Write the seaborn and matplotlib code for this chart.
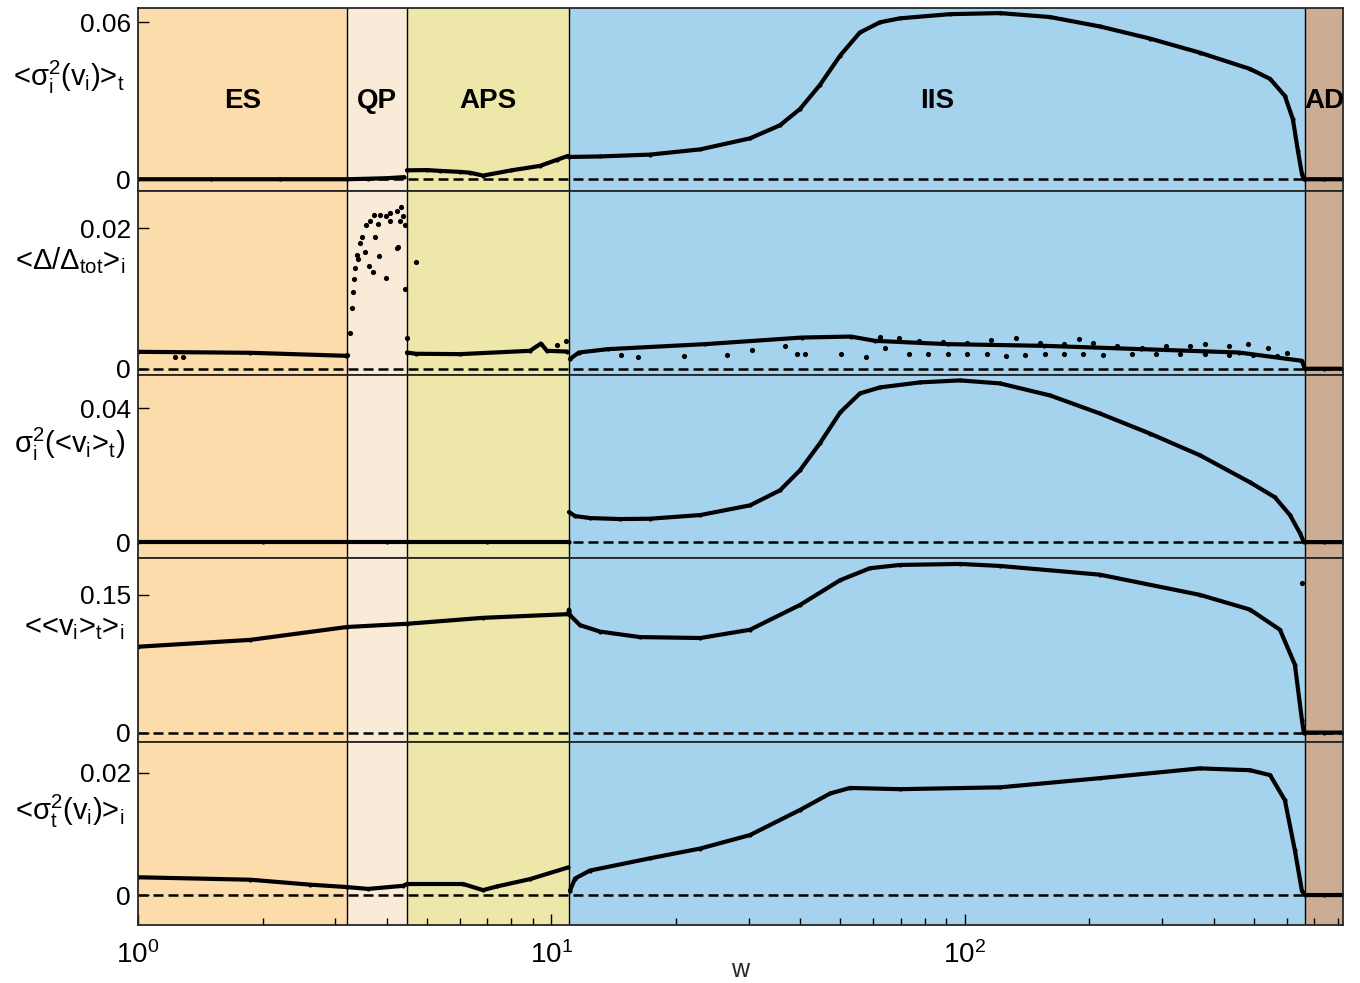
import matplotlib
matplotlib.use("Agg")
import matplotlib.pyplot as plt
import seaborn as sns
import numpy as np
import pandas as pd

# region boundaries in w
regions = ["ES", "QP", "APS", "IIS", "AD"]
edges = [1.0, 3.2, 4.47, 11.02, 664.0, 821.0]
region_colors = ["#fddcab", "#faebd8", "#ede7aa", "#a5d3ed", "#ccad93"]

# panel 1: <sigma_i^2(v_i)>_t
p1_w = [1.0, 1.5, 2.2, 3.2, 3.6, 4.0, 4.4, 4.47, 5.0, 5.37, 6.01, 6.35, 6.83, 8.0, 9.38, 10.3,
        10.96, 11.02, 13.1, 17.3, 22.9, 30.2, 35.7, 39.9, 44.6, 49.9, 55.7, 62.3, 69.6, 92.0,
        121.5, 160.6, 212.0, 280.0, 370.0, 489.0, 547.0, 594.0, 621.0, 639.0, 653.0, 660.0,
        664.0, 740.0, 821.0]
p1_v = [0, 0, 0, 0, 0.0002, 0.0004, 0.0008, 0.0034, 0.0035, 0.0032, 0.0028, 0.0025, 0.0014,
        0.0034, 0.0051, 0.0074, 0.0089, 0.0085, 0.0087, 0.0094, 0.0114, 0.0156, 0.0206, 0.0268,
        0.036, 0.0472, 0.056, 0.0599, 0.0614, 0.063, 0.0634, 0.0619, 0.0583, 0.0537, 0.0483,
        0.0421, 0.0383, 0.0318, 0.0229, 0.0106, 0.0021, 0, 0, 0, 0]
p1_breaks = [4.47]

# panel 2: <Delta/Delta_tot>_i  (main curve)
p2_w = [1.0, 1.87, 3.19, 4.47, 4.70, 6.01, 8.87, 9.43, 9.75, 10.91, 11.08, 11.65, 13.7, 23.51,
        40.35, 53.0, 60.6, 90.9, 155.5, 267.0, 460.0, 653.0, 664.0, 740.0, 821.0]
p2_v = [0.00241, 0.00227, 0.00184, 0.00231, 0.00213, 0.00208, 0.00255, 0.00359, 0.00255,
        0.00245, 0.00138, 0.00231, 0.00279, 0.0035, 0.00444, 0.00458, 0.00397, 0.0035, 0.00326,
        0.00279, 0.00231, 0.00113, 0, 0, 0]
p2_breaks = [4.0, 11.0]
# panel 2: scattered points (QP burst and outliers)
p2_pts_w = [3.21, 3.26, 3.29, 3.31, 3.32, 3.35, 3.39, 3.41, 3.44, 3.49, 3.54, 3.56, 3.61, 3.64,
            3.71, 3.73, 3.75, 3.81, 3.83, 3.85, 3.98, 3.98, 4.07, 4.07, 4.23, 4.23, 4.26, 4.30,
            4.33, 4.37, 4.42, 4.43, 4.47, 4.70, 1.23, 1.285, 10.33, 10.85,
            14.69, 16.23, 20.87, 26.58, 30.46, 36.79, 39.14, 41.0, 50.13, 57.74, 63.97, 73.2,
            81.55, 90.87, 101.1, 112.8, 125.7, 139.7, 155.8, 173.5, 193.4, 215.7, 253.4, 289.6,
            332.1, 379.9, 435.1, 497.3, 569.4,
            62.3, 69.36, 77.27, 88.47, 101.1, 115.8, 132.6, 151.8, 173.5, 188.4, 204.0, 233.7,
            267.5, 306.3, 350.1, 379.9, 435.1, 484.2, 539.6, 600.6]
p2_pts_v = [0.0020, 0.0051, 0.0087, 0.0109, 0.0127, 0.0143, 0.0162, 0.0156, 0.0179, 0.0188,
            0.0166, 0.0204, 0.0146, 0.0210, 0.0138, 0.0219, 0.0187, 0.0206, 0.0161, 0.0219,
            0.0218, 0.0129, 0.0222, 0.0210, 0.0224, 0.0172, 0.0173, 0.0210, 0.0230, 0.0218,
            0.0204, 0.0113, 0.0044, 0.0152, 0.0017, 0.0017, 0.0034, 0.0039,
            0.00199, 0.0017, 0.00184, 0.00199, 0.00265, 0.00326, 0.00208, 0.00208, 0.00208,
            0.0017, 0.0030, 0.00208, 0.00208, 0.00208, 0.00208, 0.00208, 0.00184, 0.00199,
            0.00208, 0.00208, 0.00208, 0.00199, 0.00208, 0.00208, 0.00208, 0.00208, 0.00199,
            0.00199, 0.00184,
            0.00454, 0.00444, 0.00397, 0.00387, 0.00373, 0.00407, 0.00444, 0.00373, 0.0035,
            0.00421, 0.00373, 0.00326, 0.0030, 0.00326, 0.00326, 0.0035, 0.00326, 0.0035,
            0.0030, 0.00231]

# panel 3: sigma_i^2(<v_i>_t)
p3_w = [1.0, 2.0, 4.0, 7.0, 11.0, 11.02, 11.4, 12.39, 14.65, 17.3, 22.9, 30.2, 35.7, 39.9,
        44.6, 49.9, 55.7, 62.3, 77.8, 97.2, 121.5, 160.6, 212.0, 280.0, 370.0, 489.0, 562.0,
        611.0, 646.0, 660.0, 664.0, 740.0, 821.0]
p3_v = [0, 0, 0, 0, 0, 0.009, 0.0078, 0.0072, 0.0069, 0.007, 0.0081, 0.011, 0.0155, 0.0215,
        0.0296, 0.0388, 0.0445, 0.0463, 0.0478, 0.0484, 0.0475, 0.0439, 0.0385, 0.0325, 0.026,
        0.0179, 0.0134, 0.0081, 0.0027, 0, 0, 0, 0]
p3_breaks = [11.01]

# panel 4: <<v_i>_t>_i
p4_w = [1.0, 1.87, 3.2, 4.47, 6.83, 10.96, 11.02, 11.08, 11.72, 13.1, 16.37, 22.9, 30.2, 39.9,
        49.9, 58.9, 69.6, 97.2, 121.5, 212.0, 370.0, 489.0, 578.0, 628.0, 653.0, 660.0, 664.0,
        740.0, 821.0]
p4_v = [0.0935, 0.101, 0.115, 0.1185, 0.125, 0.129, 0.134, 0.128, 0.117, 0.110, 0.104, 0.103,
        0.112, 0.139, 0.166, 0.179, 0.1826, 0.1837, 0.1815, 0.172, 0.150, 0.134, 0.112, 0.074,
        0.014, 0, 0, 0, 0]
p4_breaks = []
p4_pts_w = [655.0]
p4_pts_v = [0.163]

# panel 5: <sigma_t^2(v_i)>_i
p5_w = [1.0, 1.87, 2.6, 3.2, 3.6, 4.37, 4.47, 6.11, 6.83, 7.38, 8.87, 10.96, 11.08, 11.4,
        12.39, 17.3, 22.9, 30.2, 39.9, 47.2, 52.7, 69.6, 121.5, 212.0, 370.0, 489.0, 547.0,
        594.0, 628.0, 653.0, 664.0, 740.0, 821.0]
p5_v = [0.0029, 0.0025, 0.0017, 0.0013, 0.001, 0.0015, 0.0018, 0.0018, 0.0008, 0.0014, 0.0026,
        0.0045, 0.0007, 0.0027, 0.004, 0.006, 0.0076, 0.0098, 0.0139, 0.0166, 0.0175, 0.0173,
        0.0176, 0.0191, 0.0207, 0.0204, 0.0196, 0.0155, 0.0073, 0.0007, 0, 0, 0]
p5_breaks = [11.02]

ylabels = [r"$\text{<}\sigma_i^2(v_i)\text{>}_t$", r"$\text{<}\Delta/\Delta_{tot}\text{>}_i$",
           r"$\sigma_i^2(\text{<}v_i\text{>}_t)$", r"$\text{<<}v_i\text{>}_t\text{>}_i$",
           r"$\text{<}\sigma_t^2(v_i)\text{>}_i$"]
yticks = [0.06, 0.02, 0.04, 0.15, 0.02]
ylims = [(-0.0046, 0.0654), (-0.00085, 0.02525), (-0.0048, 0.0501), (-0.0098, 0.190),
         (-0.0049, 0.02508)]

sns.set_style("ticks")
plt.rcParams["font.family"] = ["Liberation Sans", "DejaVu Sans"]
plt.rcParams["mathtext.fontset"] = "custom"
plt.rcParams["mathtext.rm"] = "Liberation Sans"
plt.rcParams["mathtext.it"] = "Liberation Sans"
plt.rcParams["mathtext.default"] = "regular"
plt.rcParams["text.color"] = "black"
plt.rcParams["xtick.color"] = "black"
plt.rcParams["ytick.color"] = "black"

fig, axes = plt.subplots(5, 1, sharex=True, figsize=(13.6, 9.83), dpi=100)
fig.subplots_adjust(left=0.1015, right=0.9875, top=0.992, bottom=0.059, hspace=0)

curves = [(p1_w, p1_v, p1_breaks, None, None),
          (p2_w, p2_v, p2_breaks, p2_pts_w, p2_pts_v),
          (p3_w, p3_v, p3_breaks, None, None),
          (p4_w, p4_v, p4_breaks, p4_pts_w, p4_pts_v),
          (p5_w, p5_v, p5_breaks, None, None)]

for i, ax in enumerate(axes):
    for j in range(len(regions)):
        ax.axvspan(edges[j], edges[j + 1], color=region_colors[j], lw=0, zorder=0)
    for e in edges[1:-1]:
        ax.axvline(e, color="k", lw=1.0, zorder=1)
    ax.axhline(0, color="k", ls=(0, (4, 2)), lw=1.8, zorder=2)

    w, v, breaks, pw, pv = curves[i]
    df = pd.DataFrame({"w": w, "v": v})
    # separate line pieces where the curve jumps at a regime change
    df["seg"] = np.searchsorted(breaks, df["w"], side="right")
    sns.lineplot(data=df, x="w", y="v", units="seg", ax=ax, color="k", lw=3.0, estimator=None,
                 zorder=3, marker="o", markersize=3, markeredgewidth=0)
    if pw is not None:
        sns.scatterplot(x=pw, y=pv, ax=ax, color="k", s=14, linewidth=0, zorder=4)

    ax.set_xscale("log")
    ax.set_xlim(edges[0], edges[-1])
    ax.set_ylim(*ylims[i])
    ax.set_yticks([0, yticks[i]])
    ax.set_yticklabels(["0", f"{yticks[i]:g}"])
    ax.tick_params(axis="y", direction="in", length=8, width=1, labelsize=19, pad=5)
    ax.tick_params(axis="x", which="both", direction="in", bottom=(i == 4), top=False)
    ax.set_ylabel("")
    ax.set_xlabel("")
    for s in ax.spines.values():
        s.set_linewidth(1.3)
        s.set_zorder(5)
    ax.text(-0.011, 0.62, ylabels[i], transform=ax.transAxes, ha="right", va="center",
            fontsize=21)

# region labels on top panel
for j, name in enumerate(regions):
    xc = np.sqrt(edges[j] * edges[j + 1])
    axes[0].text(xc, 0.0298, name, ha="center", va="center", fontsize=20, fontweight="bold",
                 zorder=6, clip_on=False)

bx = axes[-1]
bx.tick_params(axis="x", which="major", length=8, width=1, labelsize=20, pad=12)
bx.tick_params(axis="x", which="minor", length=5, width=1)
bx.set_xticks([1, 10, 100])
bx.set_xlabel("w", fontsize=18, labelpad=-8)

fig.savefig("out.png", dpi=100)
